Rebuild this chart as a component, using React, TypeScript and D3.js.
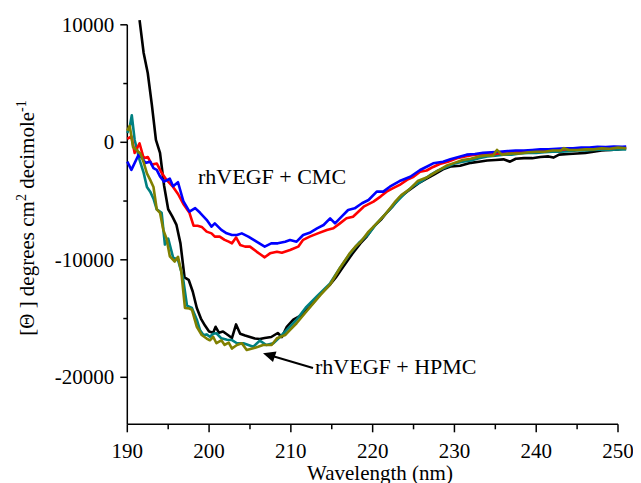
import React, { useEffect, useRef } from "react";
import * as d3 from "d3";

const xTicks = [190, 200, 210, 220, 230, 240, 250];
const xMinor = [195, 205, 215, 225, 235, 245];
const yTicks = [10000, 0, -10000, -20000];
const yMinor = [5000, -5000, -15000];

const blackSeries: [number, number][] = [
  [191.5, 10400], [192.0, 7600], [192.5, 5900], [193.0, 3200], [193.5, 200], [194.0, -900], [194.5, -3700],
  [195.0, -5700], [195.5, -6300], [196.0, -7000], [196.5, -8600], [197.0, -11500], [197.5, -11700], [198.0, -12700],
  [198.5, -14100], [199.0, -15000], [199.5, -15600], [200.0, -16100], [200.5, -16200], [200.8, -15700], [201.2, -16200],
  [201.7, -16100], [202.3, -16400], [202.8, -16650], [203.3, -15500], [203.8, -16300], [204.4, -16450], [205.0, -16570],
  [205.6, -16700], [206.2, -16740], [206.8, -16650], [207.6, -16570], [208.4, -16230], [208.9, -16570], [209.5, -15700],
  [210.3, -15100], [211.3, -14700], [212.3, -14000], [213.5, -13000], [214.8, -12100], [215.5, -11500], [216.4, -10600],
  [217.5, -9500], [218.5, -8600], [219.3, -8000], [220.1, -7200], [221.0, -6600], [221.7, -6000], [222.5, -5400],
  [223.3, -4700], [224.2, -4200], [225.0, -3800], [225.8, -3400], [226.6, -3100], [227.6, -2700], [228.6, -2300],
  [229.6, -2050], [230.7, -2000], [232.0, -1750], [233.0, -1650], [234.0, -1550], [235.0, -1500], [236.0, -1450],
  [236.8, -1650], [237.5, -1400], [238.5, -1350], [239.5, -1350], [240.5, -1250], [241.5, -1200], [242.1, -1300],
  [242.8, -1050], [244.0, -1000], [245.0, -950], [246.0, -900], [247.0, -800], [248.0, -700], [249.0, -650],
  [250.0, -600], [251.0, -500],
];

const tealSeries: [number, number][] = [
  [190.0, 800], [190.3, 1300], [190.55, 2300], [190.9, 200], [191.5, -1500], [192.0, -2600], [192.4, -3800],
  [192.8, -4200], [193.2, -4800], [193.6, -5700], [194.2, -6000], [194.6, -8700], [195.0, -8200], [195.6, -9800],
  [196.2, -10000], [196.8, -11500], [197.3, -13900], [197.9, -14100], [198.5, -15100], [198.9, -16000], [199.3, -16400],
  [199.7, -16350], [200.1, -16550], [200.5, -16300], [200.9, -16250], [201.5, -16680], [202.2, -16800], [202.8, -16830],
  [203.4, -17100], [204.2, -17100], [204.8, -17250], [205.4, -17400], [206.2, -16880], [207.0, -17250], [207.85, -17100],
  [208.7, -16550], [209.5, -15970], [210.7, -15100], [211.9, -14000], [213.2, -13100], [214.8, -12000], [216.0, -10700],
  [217.2, -9500], [218.4, -8500], [219.5, -7800], [220.5, -6900], [221.7, -6000], [222.9, -5100], [224.0, -4300],
  [225.0, -3700], [226.0, -3300], [227.0, -2800], [228.0, -2400], [229.0, -2100], [230.0, -1800], [231.0, -1650],
  [232.0, -1550], [233.0, -1350], [234.0, -1200], [235.0, -1150], [236.0, -1050], [237.0, -1050], [238.0, -950],
  [239.0, -900], [240.0, -900], [241.0, -850], [242.0, -800], [243.0, -800], [244.0, -750], [245.0, -700],
  [246.0, -700], [247.0, -650], [248.0, -600], [249.0, -650], [250.0, -600], [251.0, -600],
];

const oliveSeries: [number, number][] = [
  [190.0, 1000], [190.3, 1400], [190.7, -400], [191.2, -700], [191.6, -950], [192.0, -1700], [192.4, -2650],
  [192.8, -3200], [193.2, -3800], [193.6, -5700], [194.0, -6000], [194.4, -7450], [194.8, -8200], [195.2, -9700],
  [195.8, -10150], [196.2, -9750], [196.6, -11000], [197.05, -14100], [197.6, -14150], [197.9, -14250], [198.5, -15700],
  [199.1, -16400], [199.7, -16700], [200.1, -16850], [200.5, -16550], [200.9, -17100], [201.5, -16850], [201.9, -17250],
  [202.4, -17050], [202.8, -17550], [203.4, -17250], [204.0, -17100], [204.6, -17680], [205.4, -17530], [206.0, -17400],
  [206.6, -17250], [207.65, -17250], [208.3, -16680], [209.3, -16400], [210.0, -15900], [210.7, -15400], [211.9, -14400],
  [213.6, -13000], [214.8, -12100], [216.0, -10700], [217.2, -9450], [218.0, -8800], [218.5, -8500], [219.5, -7600],
  [220.5, -6900], [221.7, -6000], [222.7, -5100], [223.5, -4500], [224.5, -4000], [225.5, -3300], [226.6, -3000],
  [227.8, -2500], [229.0, -2000], [230.0, -1750], [231.0, -1500], [232.0, -1400], [233.0, -1200], [234.0, -1100],
  [234.7, -1150], [235.2, -650], [235.8, -1050], [237.0, -950], [238.0, -950], [239.0, -850], [240.0, -800],
  [241.0, -800], [242.0, -700], [243.0, -700], [243.4, -500], [244.0, -650], [245.0, -650], [246.0, -600],
  [247.0, -600], [248.0, -500], [249.0, -550], [250.0, -450], [251.0, -500],
];

const redSeries: [number, number][] = [
  [190.0, 300], [190.5, 500], [190.9, -900], [191.5, -100], [192.0, -1350], [192.5, -1250], [193.0, -1900],
  [193.6, -1800], [194.2, -2600], [194.8, -3200], [195.6, -3800], [196.2, -4400], [196.9, -5300], [197.6, -6000],
  [198.1, -7100], [198.6, -7100], [199.1, -7200], [199.7, -7600], [200.3, -7750], [200.7, -8030], [201.3, -8030],
  [201.9, -8300], [202.4, -8450], [202.8, -8600], [203.3, -8100], [203.8, -8740], [204.4, -8880], [205.0, -8880],
  [205.8, -9300], [206.3, -9550], [206.8, -9790], [207.45, -9450], [208.3, -9310], [208.9, -9400], [209.9, -9170],
  [210.9, -8880], [211.5, -8300], [212.3, -8030], [213.3, -7750], [214.4, -7460], [215.2, -7320], [216.0, -6900],
  [216.8, -6470], [217.6, -6330], [218.9, -5480], [220.1, -5050], [221.0, -4600], [221.7, -4200], [222.5, -3900],
  [223.3, -3630], [224.2, -3200], [225.0, -2930], [225.8, -2500], [226.6, -2400], [227.4, -2100], [228.2, -1850],
  [229.2, -1650], [230.3, -1360], [231.3, -1200], [232.3, -1080], [233.5, -1000], [234.5, -1050], [235.5, -930],
  [236.5, -950], [237.5, -850], [238.5, -800], [239.5, -750], [240.5, -700], [241.3, -650], [242.0, -600],
  [243.0, -650], [244.0, -550], [245.0, -550], [246.0, -500], [247.0, -500], [248.0, -450], [249.0, -500],
  [250.0, -450], [251.0, -450],
];

const blueSeries: [number, number][] = [
  [190.0, -1650], [190.5, -2350], [191.35, -1100], [191.8, -1300], [192.2, -1750], [192.8, -1650], [193.2, -2200],
  [193.6, -2350], [194.0, -2900], [194.5, -3350], [195.2, -3100], [195.6, -3750], [196.2, -3400], [196.85, -5000],
  [197.6, -5900], [198.3, -5600], [198.9, -6000], [199.7, -6600], [200.3, -7180], [200.7, -6900], [201.5, -7460],
  [202.15, -7750], [202.8, -7890], [203.4, -7890], [204.0, -7750], [204.8, -8030], [205.8, -8460], [206.8, -8880],
  [207.6, -8600], [208.4, -8600], [209.3, -8460], [209.9, -8310], [210.7, -8460], [211.5, -7890], [212.3, -7700],
  [213.2, -7320], [214.0, -7040], [214.8, -6470], [215.4, -6900], [216.2, -6330], [217.0, -5760], [217.8, -5620],
  [218.7, -5190], [219.5, -4910], [220.5, -4200], [221.3, -4200], [222.1, -3780], [223.3, -3300], [224.6, -2930],
  [225.8, -2360], [226.6, -2080], [227.4, -1790], [228.6, -1650], [229.5, -1450], [230.5, -1250], [231.5, -1050],
  [232.5, -1000], [233.5, -900], [234.5, -850], [235.5, -800], [236.5, -750], [237.5, -700], [238.5, -700],
  [239.5, -650], [240.5, -600], [241.5, -600], [242.5, -550], [243.5, -500], [244.5, -500], [245.5, -450],
  [246.5, -450], [247.5, -380], [248.5, -400], [249.5, -370], [250.5, -380], [251.0, -370],
];

const seriesList: { data: [number, number][]; color: string }[] = [
  { data: blackSeries, color: "#000000" },
  { data: tealSeries, color: "#008080" },
  { data: redSeries, color: "#FF0000" },
  { data: blueSeries, color: "#0000FF" },
  { data: oliveSeries, color: "#808000" },
];

const labelCMC = "rhVEGF + CMC";
const labelHPMC = "rhVEGF + HPMC";
const FONT = '"Liberation Serif", Tinos, "Times New Roman", FreeSerif, "Nimbus Roman", Times';

export default function App() {
  const ref = useRef<SVGSVGElement>(null);

  useEffect(() => {
    const svg = d3.select(ref.current);
    svg.selectAll("*").remove();
    svg.append("style").text(`text, tspan { font-family: ${FONT} !important; }`);
    const g = svg.append("g").attr("transform", "translate(-8,-8)");
    const x = d3.scaleLinear().domain([190, 250]).range([127.3, 618]);
    const y = d3.scaleLinear().domain([-24000, 10000]).range([424.3, 24.8]);
    const line = d3.line<[number, number]>().x(d => x(d[0])).y(d => y(d[1]));
    const x0 = x(190), y0 = y(-24000);
    const ax = g.append("g").attr("stroke", "#000").attr("stroke-width", 1.5);
    ax.append("line").attr("x1", x0).attr("x2", x0).attr("y1", y(10000)).attr("y2", y0);
    ax.append("line").attr("x1", x0).attr("x2", x(250)).attr("y1", y0).attr("y2", y0);
    yTicks.forEach(t => ax.append("line").attr("x1", x0 - 7).attr("x2", x0).attr("y1", y(t)).attr("y2", y(t)));
    yMinor.forEach(t => ax.append("line").attr("x1", x0 - 4).attr("x2", x0).attr("y1", y(t)).attr("y2", y(t)));
    xTicks.forEach(t => ax.append("line").attr("x1", x(t)).attr("x2", x(t)).attr("y1", y0).attr("y2", y0 + 8));
    xMinor.forEach(t => ax.append("line").attr("x1", x(t)).attr("x2", x(t)).attr("y1", y0).attr("y2", y0 + 5));

    seriesList.forEach(s => {
      g.append("path").attr("d", line(s.data) || "").attr("fill", "none").attr("stroke", s.color)
        .attr("stroke-width", 2.6).attr("stroke-linejoin", "round");
    });

    g.append("line").attr("x1", 313).attr("y1", 368).attr("x2", 274).attr("y2", 356.5).attr("stroke", "#000").attr("stroke-width", 2);
    g.append("path").attr("d", "M263,353.3 L276.5,351.5 L273,362 Z").attr("fill", "#000");

    const txt = (xx: number, yy: number, s: string, size: number, anchor = "start") =>
      g.append("text").attr("x", xx).attr("y", yy).attr("text-anchor", anchor)
        .attr("font-family", FONT).attr("font-size", size)
        .style("font-family", FONT).style("font-size", size + "px").text(s);

    yTicks.forEach(t => txt(x0 - 13, y(t) + 7, t < 0 ? "-" + Math.abs(t) : String(t), 21, "end"));
    xTicks.forEach(t => txt(x(t), 457.5, String(t), 21, "middle"));
    txt(380, 480, "Wavelength (nm)", 21, "middle");
    txt(198, 184, labelCMC, 22);
    txt(315, 374, labelHPMC, 22);

    const yl = g.append("text").attr("transform", "translate(34,218) rotate(-90)").attr("text-anchor", "middle")
      .attr("font-family", FONT).style("font-family", FONT).style("font-size", "21px");
    yl.append("tspan").text("[Θ ] degrees cm");
    yl.append("tspan").attr("dy", -8).style("font-size", "14px").text("2");
    yl.append("tspan").attr("dy", 8).text(" decimole");
    yl.append("tspan").attr("dy", -8).style("font-size", "14px").text("-1");
  }, []);

  return <svg ref={ref} width={633} height={475} style={{ fontFamily: FONT }} />;
}
